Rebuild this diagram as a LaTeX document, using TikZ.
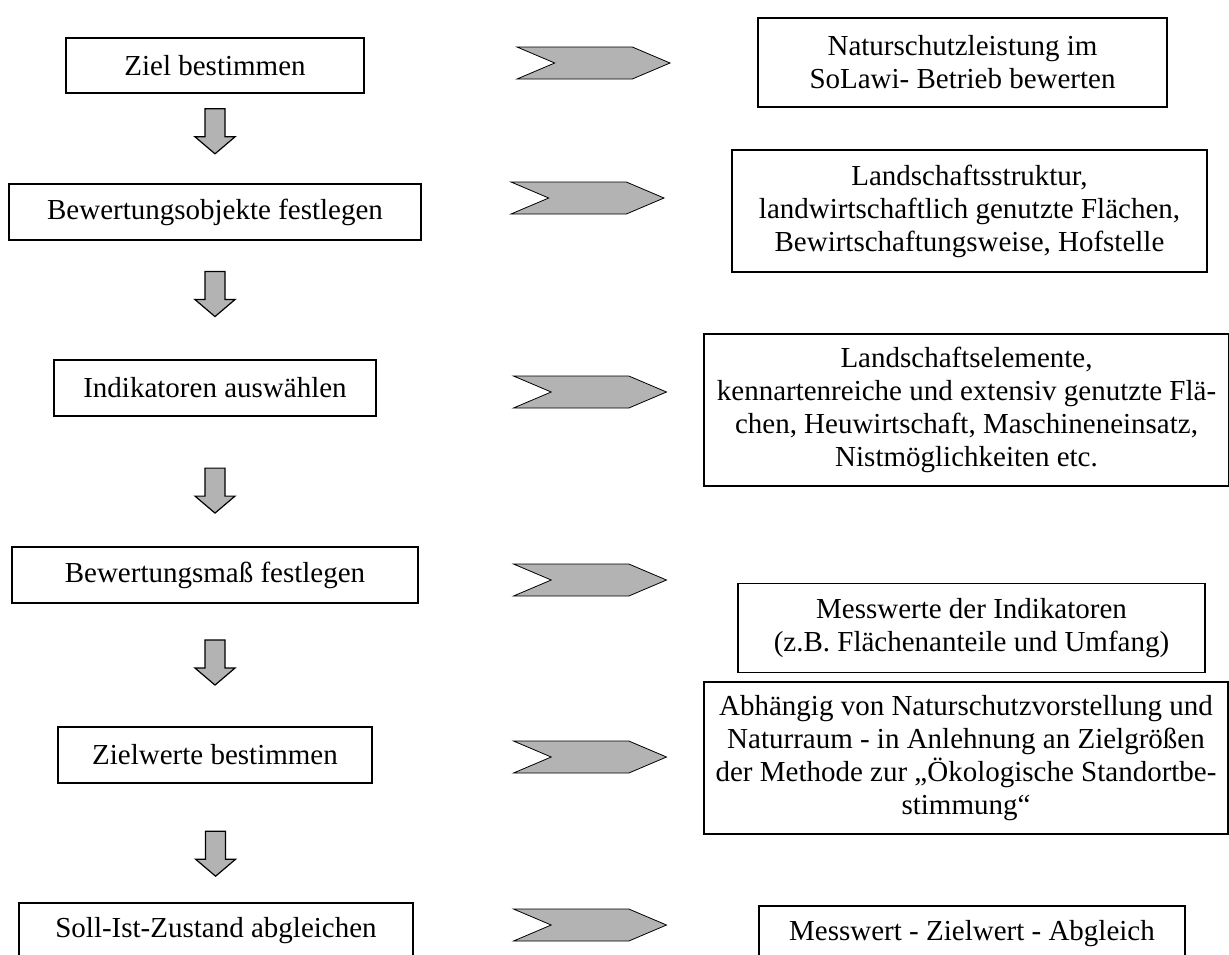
\documentclass[tikz,border=0pt]{standalone}
\usepackage{fontspec}
\setmainfont{Liberation Serif}
\usetikzlibrary{shapes.symbols,calc}
\definecolor{pfeilgrau}{RGB}{179,179,179}
\begin{document}
\begin{tikzpicture}[x=0.5pt, y=-0.5pt,
    B/.style={draw, line width=0.6pt, align=center, inner sep=0pt, font=\fontsize{14.5}{16.5}\selectfont},
    A/.pic={\draw[fill=pfeilgrau, line width=0.6pt] (-10,-22.5) -- (10,-22.5) -- (10,5.5) -- (20,5.5)
        -- (0,22.5) -- (-20,5.5) -- (-10,5.5) -- cycle;},
    C/.style={signal, draw, fill=pfeilgrau, signal from=west, signal to=east, signal pointer angle=46,
        minimum width=76.5pt, minimum height=16pt, inner sep=0pt}
  ]
  \useasboundingbox (0,0) rectangle (1229,954);
  \node [B, minimum width=149pt, minimum height=27.5pt] (ziel) at (215,65.5) {Ziel bestimmen};
  \node [B, minimum width=206pt, minimum height=28pt] (objekte) at (215,212) {Bewertungsobjekte festlegen};
  \node [B, minimum width=161pt, minimum height=28pt] (indikatoren) at (215,388) {Indikatoren auswählen};
  \node [B, minimum width=203pt, minimum height=28pt] (mass) at (215,575) {Bewertungsmaß festlegen};
  \node [B, minimum width=157pt, minimum height=28pt] (zielwerte) at (215,755) {Zielwerte bestimmen};
  \node [B, minimum width=197pt, minimum height=28pt] (abgleich) at (216,931) {Soll-Ist-Zustand abgleichen};

  \node [B, minimum width=204.5pt, minimum height=44.5pt] (rziel) at (962.5,62.5)
      {Naturschutzleistung im\\SoLawi- Betrieb bewerten};
  \node [B, minimum width=237.5pt, minimum height=61pt] (robjekte) at (969.5,211)
      {Landschaftsstruktur,\\landwirtschaftlich genutzte Flächen,\\Bewirtschaftungsweise, Hofstelle};
  \node [B, minimum width=262.5pt, minimum height=76pt] (rindikatoren) at (966.5,410)
      {Landschaftselemente,\\kennartenreiche und extensiv genutzte Flä-\\chen, Heuwirtschaft, Maschineneinsatz,\\Nistmöglichkeiten etc.};
  \node [B, minimum width=233.5pt, minimum height=44.5pt] (rmass) at (971.5,628)
      {Messwerte der Indikatoren\\(z.B. Flächenanteile und Umfang)};
  \node [B, minimum width=262pt, minimum height=76pt] (rzielwerte) at (966,758)
      {Abhängig von Naturschutzvorstellung und\\Naturraum - in Anlehnung an Zielgrößen\\der Methode zur „Ökologische Standortbe-\\stimmung“};
  \node [B, minimum width=213pt, minimum height=28pt] (rabgleich) at (972,934) {Messwert - Zielwert - Abgleich};

  \node [C] (c1) at (593.5,63) {};
  \node [C] (c2) at (587.5,198) {};
  \node [C] (c3) at (590,392) {};
  \node [C] (c4) at (590,580) {};
  \node [C] (c5) at (590,757) {};
  \node [C] (c6) at (590,925) {};

  \pic (a1) at ($(ziel.south)!0.42!(objekte.north)$) {A};
  \pic (a2) at ($(objekte.south)!0.45!(indikatoren.north)$) {A};
  \pic (a3) at ($(indikatoren.south)!0.57!(mass.north)$) {A};
  \pic (a4) at ($(mass.south)!0.48!(zielwerte.north)$) {A};
  \pic (a5) at ($(zielwerte.south)!0.59!(abgleich.north)$) {A};
\end{tikzpicture}
\end{document}
